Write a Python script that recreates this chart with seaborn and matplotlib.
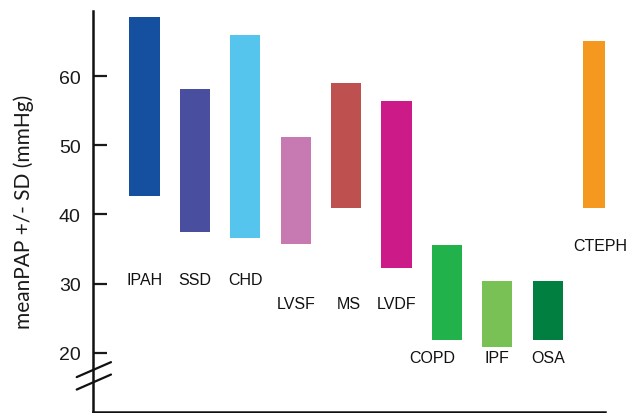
import matplotlib
matplotlib.use("Agg")
import matplotlib.pyplot as plt
import seaborn as sns
import pandas as pd

categories = ["IPAH", "SSD", "CHD", "LVSF", "MS", "LVDF", "COPD", "IPF", "OSA", "CTEPH"]
low_values = [42.7, 37.5, 36.6, 35.7, 40.9, 32.3, 21.8, 20.9, 21.8, 40.9]
high_values = [68.6, 58.1, 66.0, 51.2, 59.0, 56.4, 35.6, 30.4, 30.4, 65.0]
bar_colors = ["#1550A0", "#4A4E9E", "#56C5EE", "#C77AB2", "#BE5050",
              "#CC1A88", "#22B24C", "#7AC155", "#007F40", "#F5981F"]
label_y = [30.6, 30.6, 30.6, 27.2, 27.2, 27.2, 19.4, 19.4, 19.4, 35.5]
label_dx = [0.0, 0.0, 0.0, 0.0, 0.05, 0.0, -0.3, 0.0, 0.0, 0.05]
y_ticks = [20, 30, 40, 50, 60]

df = pd.DataFrame({
    "group": categories,
    "low": low_values,
    "high": high_values,
})
df["span"] = df["high"] - df["low"]

sns.set_theme(style="white")
plt.rcParams["font.family"] = ["Liberation Sans", "DejaVu Sans"]

fig = plt.figure(figsize=(6.39, 4.14), dpi=100)
ax = fig.add_axes([93.3 / 639, 1.3 / 414, (605 - 93.3) / 639, (412.7 - 12) / 414])

sns.barplot(data=df, x="group", y="span", hue="group", order=categories,
            hue_order=categories, palette=bar_colors, width=0.6,
            saturation=1, errorbar=None, legend=False, ax=ax, linewidth=0)

for patch, lo in zip(ax.patches, df["low"]):
    patch.set_y(lo)

ax.set_ylim(11.5, 69.4)
ax.set_xlim(-1.016, 9.137)
ax.set_yticks(y_ticks)
ax.set_yticklabels([str(t) for t in y_ticks])
ax.set_xticks([])
ax.set_xlabel("")
ax.set_ylabel("meanPAP +/- SD (mmHg)", fontsize=15, family=["Lato", "DejaVu Sans"],
              color="#1a1a1a")
ax.yaxis.set_label_coords(-0.116, 0.5)

ax.tick_params(axis="y", direction="in", length=10, width=1.6, pad=9,
               labelsize=14, colors="#1a1a1a", left=True)
for side in ["top", "right"]:
    ax.spines[side].set_visible(False)
for side in ["left", "bottom"]:
    ax.spines[side].set_color("#111111")
    ax.spines[side].set_linewidth(1.8)

for i, (name, ly, dx) in enumerate(zip(categories, label_y, label_dx)):
    ax.text(i + dx, ly, name, ha="center", va="center", fontsize=11.5, color="#111111")

# axis break marks
for y0, y1 in [(16.5, 18.66), (14.7, 16.87)]:
    ax.plot([-1.016 - 16.6 / 50.4, -1.016 + 17.7 / 50.4], [y0, y1],
            color="#111111", lw=1.6, clip_on=False, transform=ax.transData)

fig.savefig("out.png", dpi=100)
